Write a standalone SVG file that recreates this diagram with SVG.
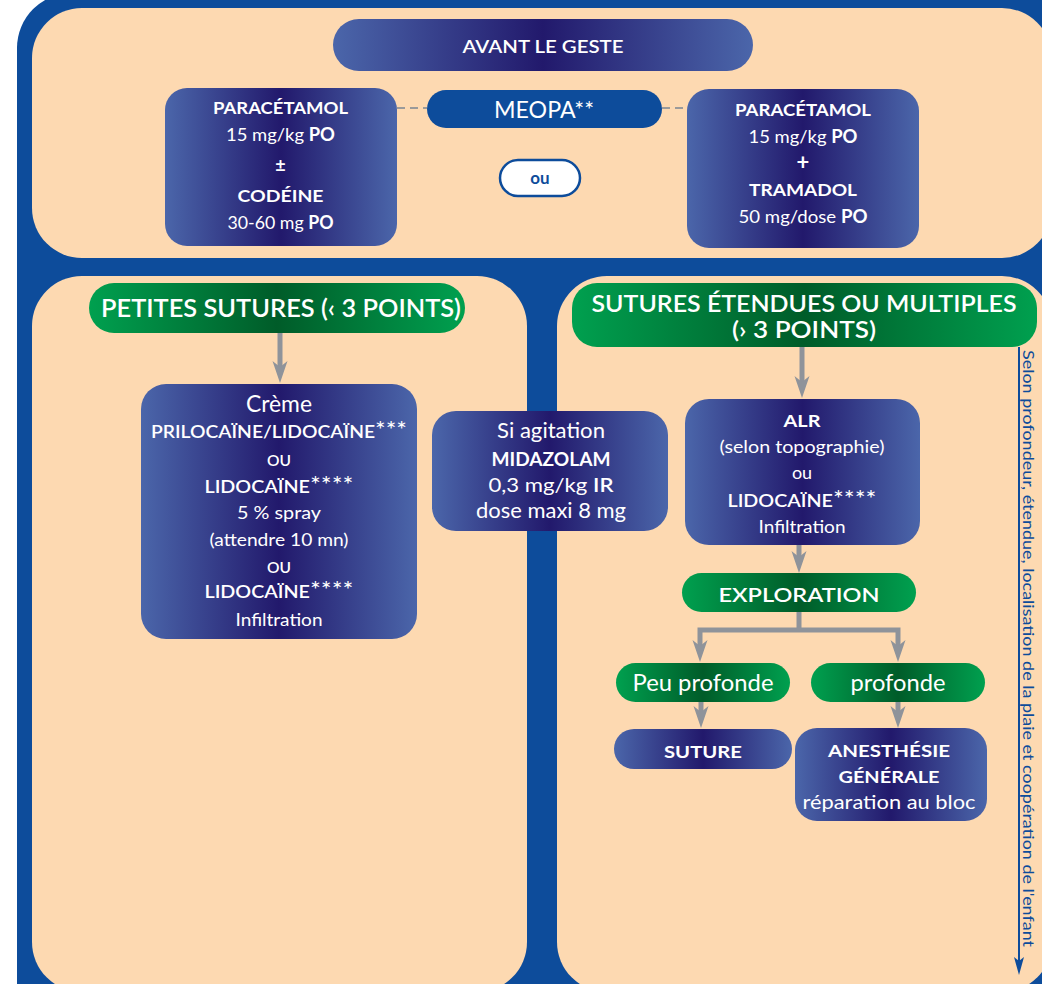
<svg xmlns="http://www.w3.org/2000/svg" width="1042" height="984" viewBox="0 0 1042 984">
<defs>
<linearGradient id="navy" x1="0" y1="0" x2="1" y2="0">
<stop offset="0" stop-color="#4b66aa"/>
<stop offset="0.5" stop-color="#22196c"/>
<stop offset="1" stop-color="#4b66aa"/>
</linearGradient>
<linearGradient id="green" x1="0" y1="0" x2="1" y2="0">
<stop offset="0" stop-color="#00a04f"/>
<stop offset="0.5" stop-color="#005c29"/>
<stop offset="1" stop-color="#00a04f"/>
</linearGradient>
<path id="ah" d="M0,0 L-7.5,-22 L0,-16 L7.5,-22 Z" fill="#8f939a"/>
<style>
.w{font-family:Lato,"Liberation Sans",sans-serif;fill:#fff;text-anchor:middle}
.b{font-weight:700}
.sb{font-weight:600}
.st{font-size:1.3em;font-weight:400}
.nav{fill:url(#navy)}
.grn{fill:url(#green)}
.pan{fill:#fdd9b1}
.shaft{stroke:#8f939a;stroke-width:5;fill:none}
.dash{stroke:#9a9a9a;stroke-width:2;stroke-dasharray:8 5;fill:none}
</style>
</defs>
<rect x="0" y="0" width="1042" height="984" fill="#ffffff"/>
<path d="M17,984 L17,48 A55,55 0 0 1 72,-7 L1042,-7 L1042,984 Z" fill="#0d4c9b"/>
<g id="panels">
<rect class="pan" x="32" y="8" width="1020" height="250" rx="50"/>
<rect class="pan" x="32" y="276" width="495" height="716" rx="50"/>
<rect class="pan" x="557" y="276" width="495" height="716" rx="50"/>
</g>
<g id="connectors">
<line class="dash" x1="397" y1="108" x2="427" y2="108"/>
<line class="dash" x1="662" y1="108" x2="687" y2="108"/>
<line class="shaft" x1="280" y1="333" x2="280" y2="367"/>
<use href="#ah" x="280" y="383"/>
<line class="shaft" x1="802" y1="347" x2="802" y2="382"/>
<use href="#ah" x="802" y="398"/>
<line class="shaft" x1="799" y1="545" x2="799" y2="557"/>
<use href="#ah" x="799" y="573"/>
<path class="shaft" d="M799,612 V630 M700,646 V630 H898 V646"/>
<use href="#ah" x="700" y="662"/>
<use href="#ah" x="898" y="662"/>
<line class="shaft" x1="701" y1="702" x2="701" y2="712"/>
<use href="#ah" x="701" y="728"/>
<line class="shaft" x1="898" y1="702" x2="898" y2="712"/>
<use href="#ah" x="898" y="728"/>
<line x1="1019" y1="347" x2="1019" y2="962" stroke="#0d4c9b" stroke-width="2"/>
<path d="M1019,975 L1014,957 L1019,961 L1024,957 Z" fill="#0d4c9b"/>
</g>
<g id="avant">
<rect class="nav" x="333" y="19" width="420" height="52" rx="26"/>
<text class="w sb" x="543" y="53" font-size="17" textLength="161" lengthAdjust="spacingAndGlyphs">AVANT LE GESTE</text>
</g>
<g id="paracetamol-codeine">
<rect class="nav" x="165" y="88" width="232" height="158" rx="22"/>
<text class="w b" x="280.5" y="114" font-size="17" textLength="135" lengthAdjust="spacingAndGlyphs">PARACÉTAMOL</text>
<text class="w" x="280.5" y="141" font-size="18" textLength="109" lengthAdjust="spacingAndGlyphs">15 mg/kg <tspan class="b">PO</tspan></text>
<text class="w b" x="280.5" y="172" font-size="18">±</text>
<text class="w b" x="280.5" y="202" font-size="17" textLength="86" lengthAdjust="spacingAndGlyphs">CODÉINE</text>
<text class="w" x="280.5" y="229" font-size="18" textLength="106" lengthAdjust="spacingAndGlyphs">30-60 mg <tspan class="b">PO</tspan></text>
</g>
<g id="meopa">
<rect x="427" y="90" width="235" height="38" rx="19" fill="#0d4c9b"/>
<text class="w" x="544" y="118" font-size="24" textLength="100" lengthAdjust="spacingAndGlyphs">MEOPA**</text>
</g>
<g id="ou">
<rect x="500" y="160" width="80" height="36" rx="18" fill="#ffffff" stroke="#0d4c9b" stroke-width="2.5"/>
<text class="w b" x="540" y="184" font-size="17" style="fill:#0d4c9b">ou</text>
</g>
<g id="paracetamol-tramadol">
<rect class="nav" x="687" y="89" width="232" height="159" rx="22"/>
<text class="w b" x="803" y="116" font-size="17" textLength="136" lengthAdjust="spacingAndGlyphs">PARACÉTAMOL</text>
<text class="w" x="803" y="143" font-size="18" textLength="109" lengthAdjust="spacingAndGlyphs">15 mg/kg <tspan class="b">PO</tspan></text>
<text class="w b" x="803" y="170" font-size="22">+</text>
<text class="w b" x="803" y="196" font-size="17" textLength="108" lengthAdjust="spacingAndGlyphs">TRAMADOL</text>
<text class="w" x="803" y="223" font-size="18" textLength="129" lengthAdjust="spacingAndGlyphs">50 mg/dose <tspan class="b">PO</tspan></text>
</g>
<g id="petites-sutures">
<rect class="grn" x="89" y="283" width="376" height="50" rx="25"/>
<text class="w sb" x="281" y="317" font-size="24" textLength="360" lengthAdjust="spacingAndGlyphs">PETITES SUTURES (‹ 3 POINTS)</text>
</g>
<g id="creme">
<rect class="nav" x="141" y="384" width="276" height="255" rx="25"/>
<text class="w" x="279" y="412" font-size="23" textLength="66" lengthAdjust="spacingAndGlyphs">Crème</text>
<text class="w sb" x="279" y="438" font-size="17" textLength="256" lengthAdjust="spacingAndGlyphs">PRILOCAÏNE/LIDOCAÏNE<tspan class="st">***</tspan></text>
<text class="w sb" x="279" y="466" font-size="16" textLength="24" lengthAdjust="spacingAndGlyphs">OU</text>
<text class="w sb" x="279" y="493" font-size="17" textLength="149" lengthAdjust="spacingAndGlyphs">LIDOCAÏNE<tspan class="st">****</tspan></text>
<text class="w" x="279" y="519" font-size="18" textLength="84" lengthAdjust="spacingAndGlyphs">5 % spray</text>
<text class="w" x="279" y="546" font-size="18" textLength="139" lengthAdjust="spacingAndGlyphs">(attendre 10 mn)</text>
<text class="w sb" x="279" y="573" font-size="16" textLength="24" lengthAdjust="spacingAndGlyphs">OU</text>
<text class="w sb" x="279" y="598" font-size="17" textLength="149" lengthAdjust="spacingAndGlyphs">LIDOCAÏNE<tspan class="st">****</tspan></text>
<text class="w" x="279" y="626" font-size="18" textLength="87" lengthAdjust="spacingAndGlyphs">Infiltration</text>
</g>
<g id="agitation">
<rect class="nav" x="432" y="411" width="236" height="120" rx="24"/>
<text class="w" x="551" y="438" font-size="22" textLength="108" lengthAdjust="spacingAndGlyphs">Si agitation</text>
<text class="w b" x="551" y="466" font-size="18" textLength="119" lengthAdjust="spacingAndGlyphs">MIDAZOLAM</text>
<text class="w" x="551" y="492" font-size="20" textLength="125" lengthAdjust="spacingAndGlyphs">0,3 mg/kg <tspan class="sb">IR</tspan></text>
<text class="w" x="551" y="518" font-size="21" textLength="150" lengthAdjust="spacingAndGlyphs">dose maxi 8 mg</text>
</g>
<g id="sutures-etendues">
<rect class="grn" x="572" y="283" width="465" height="64" rx="25"/>
<text class="w sb" x="804" y="312" font-size="23" textLength="425" lengthAdjust="spacingAndGlyphs">SUTURES ÉTENDUES OU MULTIPLES</text>
<text class="w sb" x="804" y="338" font-size="23" textLength="144" lengthAdjust="spacingAndGlyphs">(› 3 POINTS)</text>
</g>
<g id="alr">
<rect class="nav" x="685" y="399" width="235" height="146" rx="24"/>
<text class="w b" x="802" y="427" font-size="17" textLength="37" lengthAdjust="spacingAndGlyphs">ALR</text>
<text class="w" x="802" y="453" font-size="18" textLength="165" lengthAdjust="spacingAndGlyphs">(selon topographie)</text>
<text class="w" x="802" y="479" font-size="18">ou</text>
<text class="w sb" x="802" y="507" font-size="17" textLength="149" lengthAdjust="spacingAndGlyphs">LIDOCAÏNE<tspan class="st">****</tspan></text>
<text class="w" x="802" y="533" font-size="18" textLength="87" lengthAdjust="spacingAndGlyphs">Infiltration</text>
</g>
<g id="exploration">
<rect class="grn" x="682" y="573" width="234" height="39" rx="19.5"/>
<text class="w sb" x="799" y="602" font-size="20" textLength="161" lengthAdjust="spacingAndGlyphs">EXPLORATION</text>
</g>
<g id="peu-profonde">
<rect class="grn" x="616" y="663" width="174" height="39" rx="19.5"/>
<text class="w" x="703" y="691" font-size="23" textLength="141" lengthAdjust="spacingAndGlyphs">Peu profonde</text>
</g>
<g id="profonde">
<rect class="grn" x="811" y="663" width="174" height="39" rx="19.5"/>
<text class="w" x="898" y="691" font-size="23" textLength="95" lengthAdjust="spacingAndGlyphs">profonde</text>
</g>
<g id="suture">
<rect class="nav" x="614" y="729" width="178" height="40" rx="20"/>
<text class="w b" x="703" y="758" font-size="17" textLength="78" lengthAdjust="spacingAndGlyphs">SUTURE</text>
</g>
<g id="anesthesie">
<rect class="nav" x="795" y="728" width="192" height="93" rx="22"/>
<text class="w b" x="889" y="757" font-size="17" textLength="122" lengthAdjust="spacingAndGlyphs">ANESTHÉSIE</text>
<text class="w b" x="889" y="783" font-size="17" textLength="101" lengthAdjust="spacingAndGlyphs">GÉNÉRALE</text>
<text class="w" x="889" y="809" font-size="19" textLength="173" lengthAdjust="spacingAndGlyphs">réparation au bloc</text>
</g>
<g id="side-label">
<text transform="translate(1023,350) rotate(90)" x="0" y="0" font-family="Lato, 'Liberation Sans', sans-serif" font-size="16" fill="#0d4c9b" textLength="597" lengthAdjust="spacingAndGlyphs">Selon profondeur, étendue, localisation de la plaie et coopération de l'enfant</text>
</g>
</svg>
